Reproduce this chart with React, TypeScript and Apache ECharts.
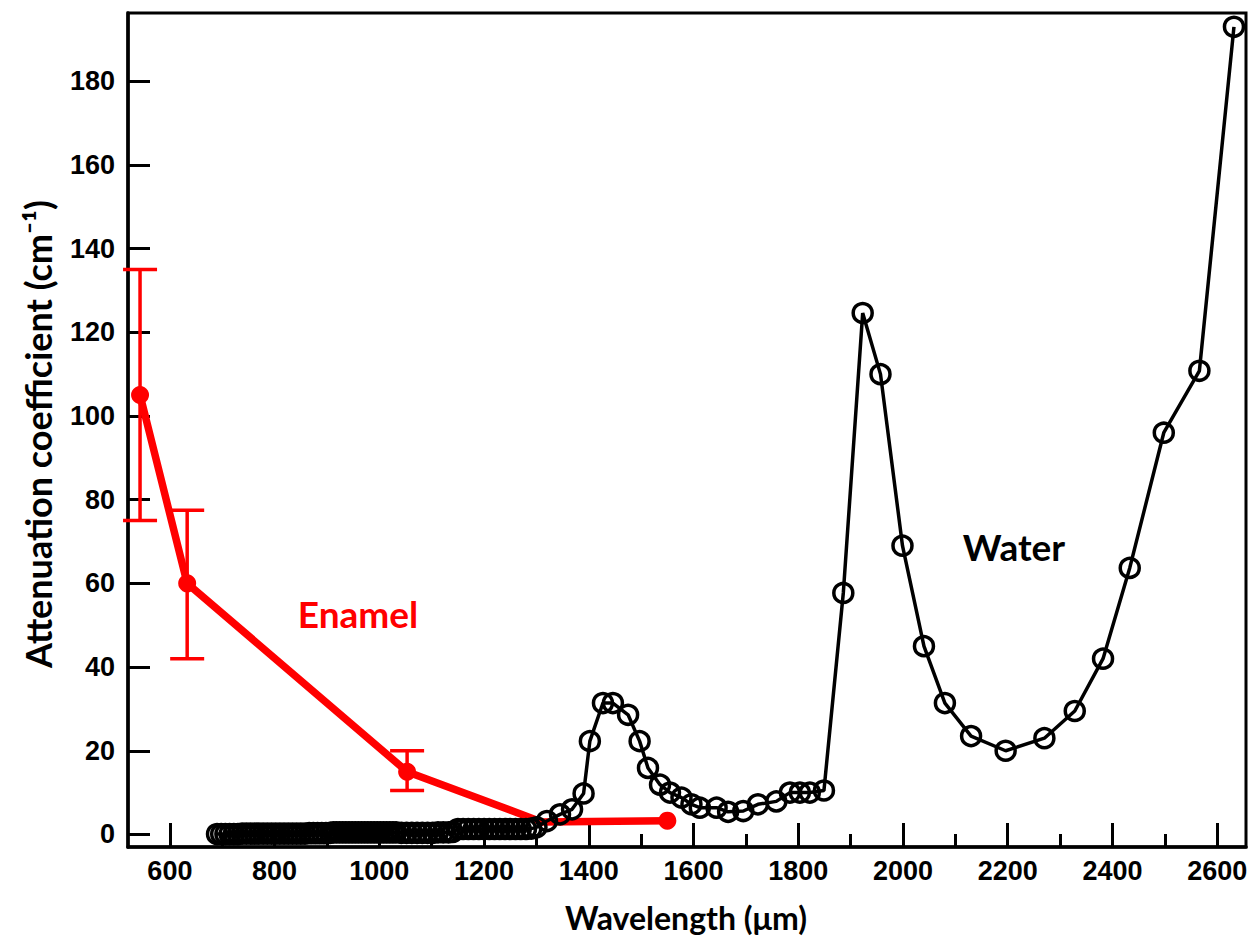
import React, { useEffect, useRef } from "react";
import * as echarts from "echarts";

// ---- data ----
const waterWavelength = [
  690, 698, 706, 714, 722, 730, 738, 746, 754, 762, 770, 778, 786, 794, 802, 810, 818, 826, 834, 842,
  850, 858, 866, 874, 882, 890, 898, 906,
  912, 918, 924, 930, 936, 942, 948, 954, 960, 966, 972, 978, 984, 990, 996, 1002, 1008, 1014, 1020, 1026, 1032,
  1042, 1052, 1062, 1072, 1082, 1092, 1102, 1112, 1122, 1132, 1140,
  1150, 1160, 1170, 1180, 1190, 1200, 1210, 1220, 1230, 1240, 1250, 1260, 1270, 1280, 1290, 1300,
  1320, 1345, 1368, 1390, 1402, 1427, 1446, 1475, 1497, 1513, 1536, 1555, 1577, 1596, 1612, 1644, 1666, 1695,
  1723, 1758, 1784, 1803, 1822, 1849,
  1886, 1923, 1957, 1999, 2040, 2080, 2130, 2196, 2270, 2328, 2382, 2433, 2498, 2566, 2632,
];
const waterAttenuation = [
  0.1, 0.1, 0.1, 0.1, 0.1, 0.1, 0.2, 0.2, 0.2, 0.2, 0.2, 0.2, 0.2, 0.2, 0.2, 0.2, 0.2, 0.2, 0.2, 0.2,
  0.2, 0.2, 0.3, 0.3, 0.3, 0.3, 0.3, 0.4,
  0.5, 0.5, 0.5, 0.5, 0.5, 0.5, 0.5, 0.5, 0.5, 0.5, 0.5, 0.5, 0.5, 0.5, 0.5, 0.5, 0.5, 0.5, 0.5, 0.5, 0.5,
  0.4, 0.4, 0.4, 0.4, 0.4, 0.4, 0.4, 0.5, 0.5, 0.5, 0.6,
  1.3, 1.3, 1.3, 1.3, 1.3, 1.3, 1.3, 1.3, 1.3, 1.3, 1.3, 1.3, 1.3, 1.3, 1.4, 1.7,
  3.2, 4.8, 6.0, 9.8, 22.3, 31.4, 31.4, 28.6, 22.3, 15.9, 11.9, 10.0, 8.8, 7.2, 6.4, 6.4, 5.4, 5.6,
  7.2, 7.9, 10.0, 10.0, 10.0, 10.5,
  57.7, 124.6, 110.0, 69.0, 45.0, 31.4, 23.5, 20.0, 23.0, 29.5, 42.0, 63.7, 96.0, 110.8, 193.0,
];

const enamelWavelength = [543, 633, 1053, 1310, 1550];
const enamelAttenuation = [105, 60, 15, 3, 3.3];
const enamelErrLow = [75, 42, 10.5];
const enamelErrHigh = [135, 77.5, 20];

const xMajorTicks = [600, 800, 1000, 1200, 1400, 1600, 1800, 2000, 2200, 2400, 2600];
const xMinorTicks = [700, 900, 1100, 1300, 1500, 1700, 1900, 2100, 2300, 2500];
const yTicks = [0, 20, 40, 60, 80, 100, 120, 140, 160, 180];

const X_MIN = 520;
const X_MAX = 2655;
const Y_MIN = -3;
const Y_MAX = 196.3;

export default function App() {
  const ref = useRef<HTMLDivElement>(null);

  useEffect(() => {
    if (!ref.current) return;
    const chart = echarts.init(ref.current, null, { renderer: "svg" });

    const waterData = waterWavelength.map((w, i) => [w, waterAttenuation[i]]);
    const enamelData = enamelWavelength.map((w, i) =>
      w === 1310 ? { value: [w, enamelAttenuation[i]], symbol: "none" } : { value: [w, enamelAttenuation[i]] }
    );
    const errData = enamelErrLow.map((lo, i) => [enamelWavelength[i], lo, enamelErrHigh[i]]);

    const labelFont = {
      color: "#000",
      fontSize: 27,
      fontWeight: "bold" as const,
      fontFamily: "Liberation Sans, Arial, sans-serif",
      formatter: (v: number) => String(v),
    };
    const tickLine = { color: "#000", width: 3 };
    const titleFont = "Lato, 'Open Sans', sans-serif";

    chart.setOption({
      animation: false,
      backgroundColor: "#fff",
      grid: {
        left: 128,
        right: 9,
        top: 13,
        bottom: 100,
        show: true,
        borderColor: "#000",
        borderWidth: 3,
        backgroundColor: "transparent",
      },
      xAxis: [
        {
          type: "value",
          min: X_MIN,
          max: X_MAX,
          position: "bottom",
          axisLine: { show: true, onZero: false, lineStyle: { color: "#000", width: 3.5 } },
          axisTick: { show: true, inside: true, length: 24, customValues: xMajorTicks, lineStyle: tickLine },
          axisLabel: { ...labelFont, margin: 10, customValues: xMajorTicks },
          splitLine: { show: false },
        },
        {
          type: "value",
          min: X_MIN,
          max: X_MAX,
          position: "bottom",
          axisLine: { show: false, onZero: false },
          axisTick: { show: true, inside: true, length: 13, customValues: xMinorTicks, lineStyle: tickLine },
          axisLabel: { show: false },
          splitLine: { show: false },
        },
      ],
      yAxis: {
        type: "value",
        min: Y_MIN,
        max: Y_MAX,
        axisLine: { show: true, onZero: false, lineStyle: { color: "#000", width: 3.5 } },
        axisTick: { show: true, inside: true, length: 22, customValues: yTicks, lineStyle: tickLine },
        axisLabel: { ...labelFont, margin: 13, customValues: yTicks },
        splitLine: { show: false },
      },
      graphic: [
        {
          type: "text",
          x: 686,
          y: 917,
          style: {
            text: "Wavelength (μm)",
            fill: "#000",
            font: `bold 32px ${titleFont}`,
            textAlign: "center",
            textVerticalAlign: "middle",
          },
        },
        {
          type: "text",
          x: 38,
          y: 434,
          rotation: Math.PI / 2,
          style: {
            text: "Attenuation coefficient (cm⁻¹)",
            fill: "#000",
            font: `bold 36px ${titleFont}`,
            textAlign: "center",
            textVerticalAlign: "middle",
          },
        },
        {
          type: "text",
          x: 1014,
          y: 546,
          style: {
            text: "Water",
            fill: "#000",
            font: `bold 37px ${titleFont}`,
            textAlign: "center",
            textVerticalAlign: "middle",
          },
        },
        {
          type: "text",
          x: 358,
          y: 613,
          style: {
            text: "Enamel",
            fill: "#ff0000",
            font: `bold 37px ${titleFont}`,
            textAlign: "center",
            textVerticalAlign: "middle",
          },
        },
      ],
      series: [
        {
          type: "custom",
          name: "Enamel error",
          xAxisIndex: 0,
          data: errData,
          z: 2,
          renderItem: (params: any, api: any) => {
            const x = api.value(0);
            const lo = api.coord([x, api.value(1)]);
            const hi = api.coord([x, api.value(2)]);
            const hw = 17;
            const style = { stroke: "#ff0000", lineWidth: 3.5 };
            return {
              type: "group",
              children: [
                { type: "line", shape: { x1: lo[0], y1: lo[1], x2: hi[0], y2: hi[1] }, style },
                { type: "line", shape: { x1: hi[0] - hw, y1: hi[1], x2: hi[0] + hw, y2: hi[1] }, style },
                { type: "line", shape: { x1: lo[0] - hw, y1: lo[1], x2: lo[0] + hw, y2: lo[1] }, style },
              ],
            };
          },
        },
        {
          type: "line",
          name: "Enamel",
          xAxisIndex: 0,
          data: enamelData,
          z: 3,
          symbol: "circle",
          symbolSize: 18,
          itemStyle: { color: "#ff0000" },
          lineStyle: { color: "#ff0000", width: 7.5, join: "round", cap: "round" },
        },
        {
          type: "line",
          name: "Water",
          xAxisIndex: 0,
          data: waterData,
          z: 4,
          symbol: "circle",
          symbolSize: 19,
          showAllSymbol: true,
          itemStyle: { color: "rgba(0,0,0,0)", borderColor: "#000", borderWidth: 3.5 },
          lineStyle: { color: "#000", width: 3.5 },
        },
      ],
    });

    return () => chart.dispose();
  }, []);

  return (
    <div
      ref={ref}
      style={{ position: "fixed", left: 0, top: 0, width: 1255, height: 947, background: "#fff" }}
    />
  );
}
